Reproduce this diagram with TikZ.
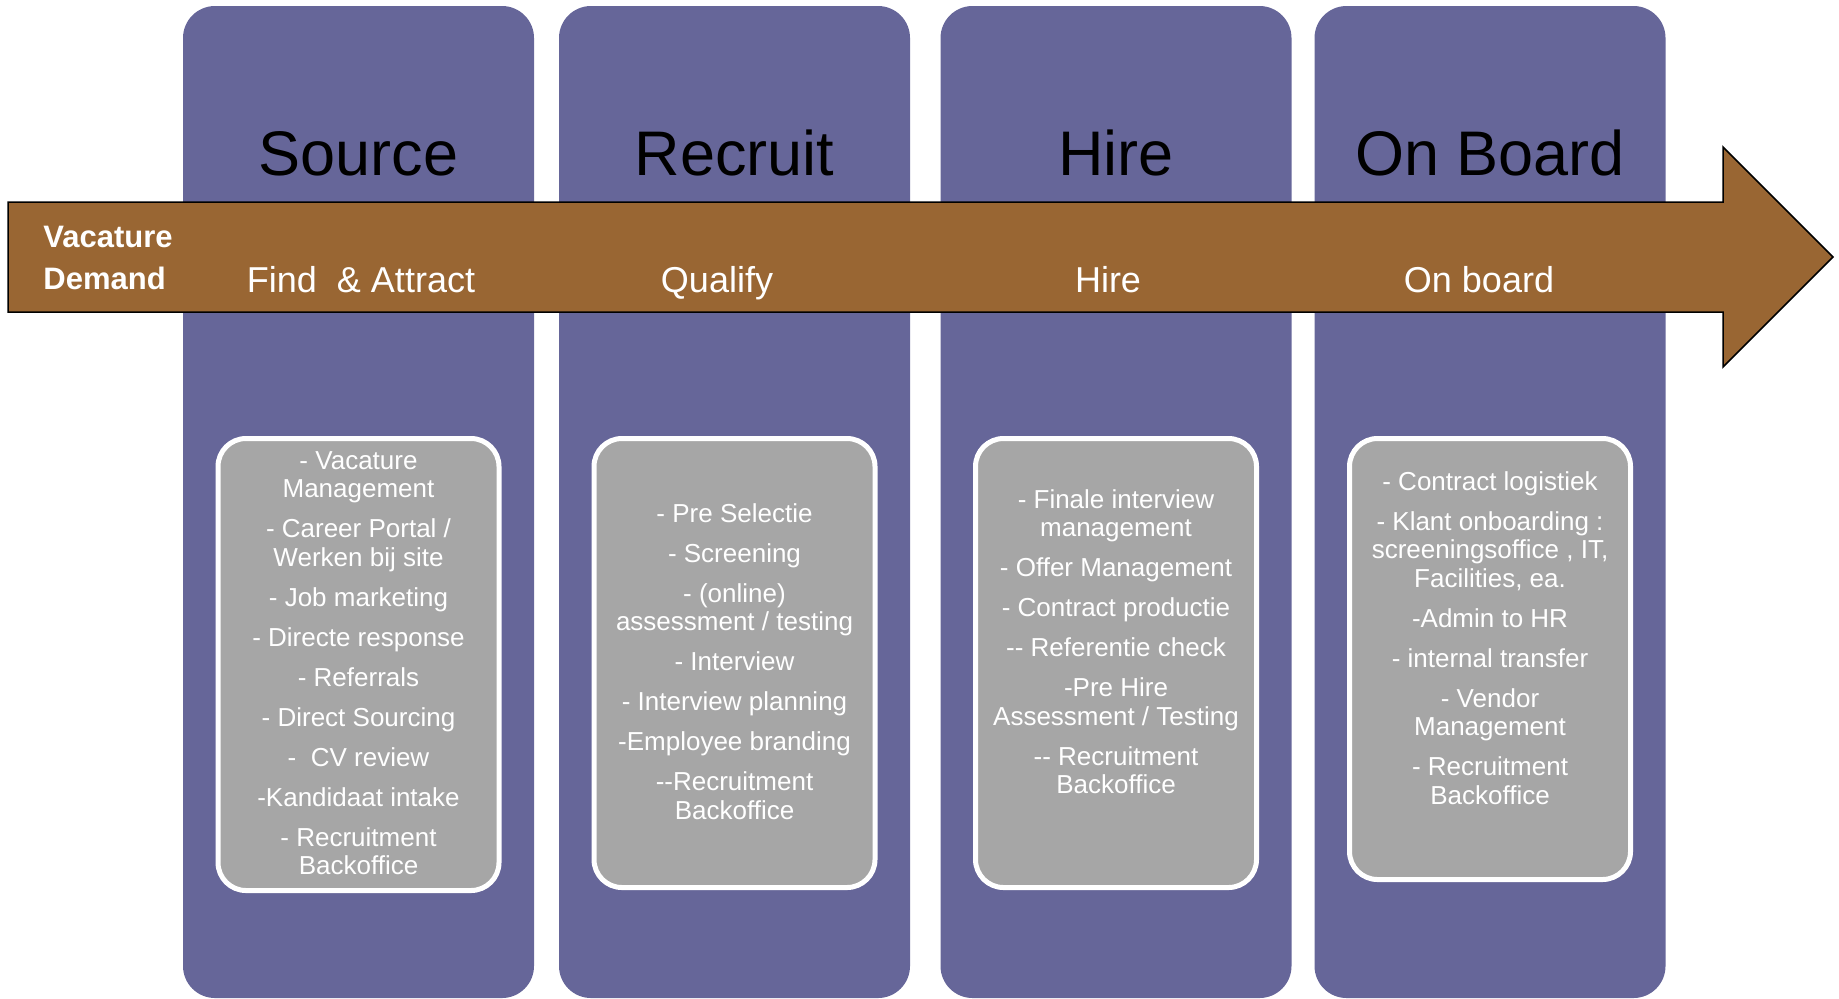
\documentclass[tikz,border=0pt]{standalone}
\usepackage{fontspec}
\setmainfont{Liberation Sans}
\definecolor{lanePurple}{RGB}{102,102,153}
\definecolor{arrowBrown}{RGB}{153,102,51}
\definecolor{listGray}{RGB}{166,166,166}
\begin{document}
\begin{tikzpicture}[x=0.5pt,y=-0.5pt,
	lane/.style={fill=lanePurple,rounded corners=16pt},
	phase/.style={anchor=base,font=\fontsize{31.5}{36}\selectfont},
	stage/.style={anchor=base,text=white,font=\fontsize{18}{21}\selectfont},
	listbox/.style={fill=listGray,draw=white,line width=2.5pt,rounded corners=14pt},
	listtext/.style={anchor=north,align=center,text=white,inner sep=0pt,font=\fontsize{13}{14.25}\selectfont}]
	\useasboundingbox (0,0) rectangle (1839,998);
	% lanes and their titles
	\foreach \c/\name/\title in {358.5/src/Source,734.5/rec/Recruit,1116/hir/Hire,1490/onb/On Board}{
		\fill[lane] (\c-175.5,6) rectangle (\c+175.5,998);
		\node[phase] (\name) at (\c,175) {\title};
	}
	% the big arrow
	\filldraw[fill=arrowBrown,draw=black,line width=0.75pt] (8,202) -- (1723,202) -- (1723,147) -- (1833,257) -- (1723,367) -- (1723,312) -- (8,312) -- cycle;
	\node[stage,font=\bfseries\fontsize{15.5}{21}\selectfont,anchor=north west,align=left,inner sep=0pt] (demand) at (43,226) {Vacature\\Demand};
	\node[stage] (findLbl) at (361,292) {Find \ \& Attract};
	\node[stage] (qualLbl) at (717,292) {Qualify};
	\node[stage] (hireLbl) at (1108,292) {Hire};
	\node[stage] (onbLbl) at (1479,292) {On board};
	% activity lists
	\foreach \c/\b in {358.5/893,734.5/890,1116/890,1490/882}
		\draw[listbox] (\c-140.5,438.5) rectangle (\c+140.5,\b-2.5);
	\node[listtext] (srcList) at (358.5,451) {- Vacature\\Management\\[5.75pt]
		- Career Portal /\\Werken bij site\\[5.75pt]
		- Job marketing\\[5.75pt]
		- Directe response\\[5.75pt]
		- Referrals\\[5.75pt]
		- Direct Sourcing\\[5.75pt]
		- \ CV review\\[5.75pt]
		-Kandidaat intake\\[5.75pt]
		- Recruitment\\Backoffice};
	\node[listtext] (recList) at (734.5,503) {- Pre Selectie\\[5.75pt]
		- Screening\\[5.75pt]
		- (online)\\assessment / testing\\[5.75pt]
		- Interview\\[5.75pt]
		- Interview planning\\[5.75pt]
		-Employee branding\\[5.75pt]
		-{}-Recruitment\\Backoffice};
	\node[listtext] (hirList) at (1116,489) {- Finale interview\\management\\[5.75pt]
		- Offer Management\\[5.75pt]
		- Contract productie\\[5.75pt]
		-{}- Referentie check\\[5.75pt]
		-Pre Hire\\Assessment / Testing\\[5.75pt]
		-{}- Recruitment\\Backoffice};
	\node[listtext] (onbList) at (1490,471) {- Contract logistiek\\[5.75pt]
		- Klant onboarding :\\screeningsoffice , IT,\\Facilities, ea.\\[5.75pt]
		-Admin to HR\\[5.75pt]
		- internal transfer\\[5.75pt]
		- Vendor\\Management\\[5.75pt]
		- Recruitment\\Backoffice};
\end{tikzpicture}
\end{document}
